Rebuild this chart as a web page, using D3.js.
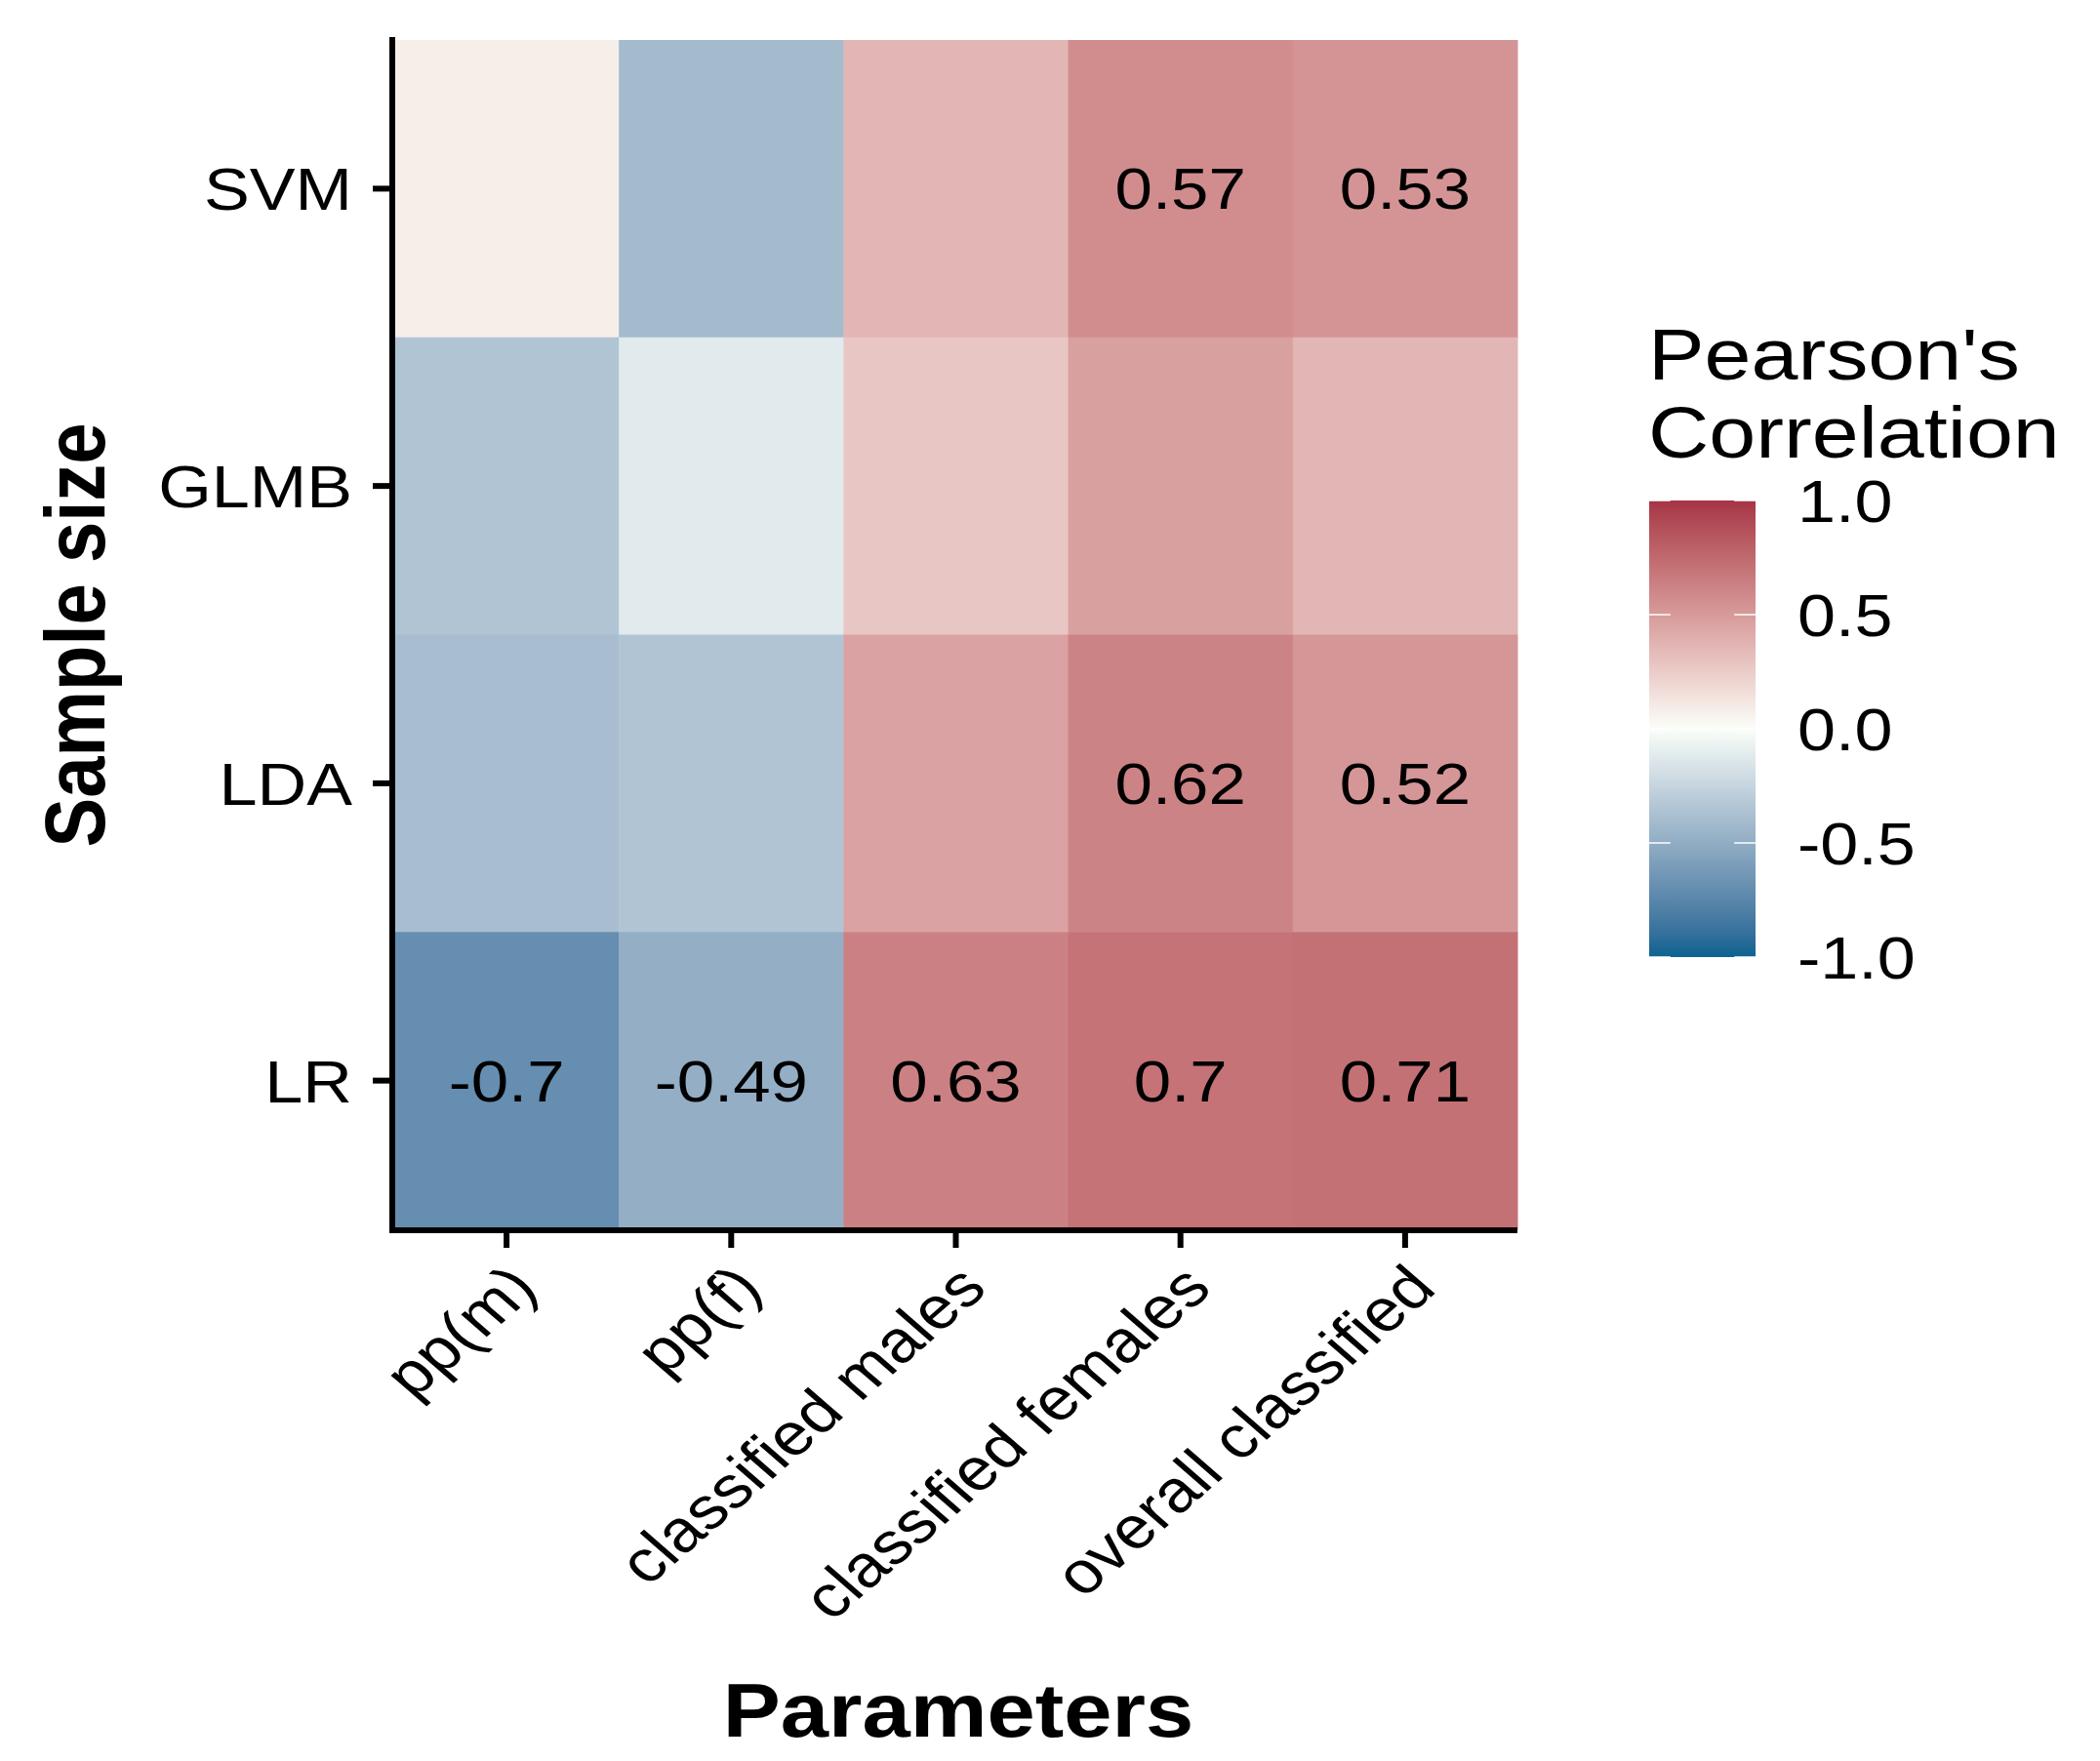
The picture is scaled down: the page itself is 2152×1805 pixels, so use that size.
<!DOCTYPE html>
<html>
<head>
  <meta charset="utf-8">
  <script src="https://d3js.org/d3.v7.min.js"></script>
  <style>
    body { margin: 0; background: #fff; }
    text { font-family: "Liberation Sans", Arial, sans-serif; fill: #000; }
  </style>
</head>
<body>
<script>
  // data
  var models = ["SVM", "GLMB", "LDA", "LR"];
  var params = ["pp(m)", "pp(f)", "classified males", "classified females", "overall classified"];
  // one row per model, one column per parameter
  var svmVals  = [0.08, -0.41, 0.36, 0.57, 0.53];
  var glmbVals = [-0.35, -0.12, 0.28, 0.47, 0.36];
  var ldaVals  = [-0.39, -0.35, 0.46, 0.62, 0.52];
  var lrVals   = [-0.7, -0.49, 0.63, 0.7, 0.71];
  // which cells carry a printed value
  var svmShown  = [false, false, false, true, true];
  var glmbShown = [false, false, false, false, false];
  var ldaShown  = [false, false, false, true, true];
  var lrShown   = [true, true, true, true, true];
  var legendTicks = [1.0, 0.5, 0.0, -0.5, -1.0];

  var rows = [svmVals, glmbVals, ldaVals, lrVals];
  var shown = [svmShown, glmbShown, ldaShown, lrShown];
  var cells = [];
  models.forEach(function (m, i) {
    params.forEach(function (p, j) {
      cells.push({model: m, param: p, value: rows[i][j], shown: shown[i][j]});
    });
  });

  var W = 2152, H = 1805;
  var SX = 1.15; // the original picture is stretched sideways

  var svg = d3.select("body").append("svg")
    .attr("width", W).attr("height", H);

  var x = d3.scaleBand().domain(params).range([404, 1555]);
  var y = d3.scaleBand().domain(models).range([41, 1260]);

  var color = d3.scaleLinear()
    .domain([-1, 0, 1])
    .range(["#0C6291", "#FBFEF9", "#A63446"])
    .interpolate(d3.interpolateLab);

  function place(sel, px, py, rot) {
    sel.attr("transform", "translate(" + px + "," + py + ") scale(" + SX + ",1)" + (rot ? " rotate(" + rot + ")" : ""));
  }
  function fmt(v) { return String(v).replace("\u2212", "-"); }

  // tiles
  svg.append("g").selectAll("rect")
    .data(cells).enter().append("rect")
    .attr("x", function (d) { return x(d.param); })
    .attr("y", function (d) { return y(d.model); })
    .attr("width", x.bandwidth() + 0.5)
    .attr("height", y.bandwidth() + 0.5)
    .attr("fill", function (d) { return color(d.value); });

  // printed values
  svg.append("g").selectAll("text")
    .data(cells.filter(function (d) { return d.shown; }))
    .enter().append("text")
    .attr("text-anchor", "middle")
    .style("font-size", "60px")
    .each(function (d) {
      place(d3.select(this), x(d.param) + x.bandwidth() / 2, y(d.model) + y.bandwidth() / 2 + 21);
    })
    .text(function (d) { return fmt(d.value); });

  // axes
  var yAxis = svg.append("g")
    .attr("transform", "translate(402,0)")
    .call(d3.axisLeft(y).tickSize(20).tickSizeOuter(0).tickFormat(""));
  var xAxis = svg.append("g")
    .attr("transform", "translate(0,1261)")
    .call(d3.axisBottom(x).tickSize(18).tickSizeOuter(0).tickFormat(""));
  [yAxis, xAxis].forEach(function (a) {
    a.selectAll("path, line").attr("stroke", "#000").attr("stroke-width", 6);
  });
  yAxis.select(".domain").attr("d", "M0,38V1264");
  xAxis.select(".domain").attr("d", "M399,0H1555");

  // tick labels
  svg.append("g").selectAll("text")
    .data(models).enter().append("text")
    .attr("text-anchor", "end")
    .style("font-size", "61px")
    .each(function (d) { place(d3.select(this), 361, y(d) + y.bandwidth() / 2 + 22); })
    .text(function (d) { return d; });

  svg.append("g").selectAll("text")
    .data(params).enter().append("text")
    .attr("text-anchor", "end")
    .style("font-size", "61px")
    .each(function (d) { place(d3.select(this), x(d) + x.bandwidth() / 2 + 34, 1323, -45); })
    .text(function (d) { return d; });

  // axis titles
  svg.append("text")
    .attr("text-anchor", "middle")
    .style("font-size", "77px").style("font-weight", "bold")
    .call(place, 982, 1780)
    .text("Parameters");

  svg.append("text")
    .attr("text-anchor", "middle")
    .style("font-size", "76px").style("font-weight", "bold")
    .attr("transform", "translate(107,651) scale(" + SX + ",1) rotate(-90)")
    .text("Sample size");

  // legend
  var ly = d3.scaleLinear().domain([-1, 1]).range([981, 513]);
  var lx = 1690, lw = 109;

  var grad = svg.append("defs").append("linearGradient")
    .attr("id", "corr-grad")
    .attr("x1", 0).attr("y1", 1).attr("x2", 0).attr("y2", 0);
  grad.selectAll("stop")
    .data(d3.range(-1, 1.0001, 0.1)).enter().append("stop")
    .attr("offset", function (d) { return (d + 1) / 2; })
    .attr("stop-color", function (d) { return color(d); });

  svg.append("rect")
    .attr("x", lx).attr("y", ly(1))
    .attr("width", lw).attr("height", ly(-1) - ly(1))
    .attr("fill", "url(#corr-grad)");

  var lt = svg.append("g").selectAll("g")
    .data(legendTicks).enter().append("g");
  lt.append("line")
    .attr("x1", lx).attr("x2", lx + lw / 5)
    .attr("y1", function (d) { return ly(d); }).attr("y2", function (d) { return ly(d); })
    .attr("stroke", "#fff").attr("stroke-width", 1.5);
  lt.append("line")
    .attr("x1", lx + lw - lw / 5).attr("x2", lx + lw)
    .attr("y1", function (d) { return ly(d); }).attr("y2", function (d) { return ly(d); })
    .attr("stroke", "#fff").attr("stroke-width", 1.5);
  lt.append("text")
    .style("font-size", "61px")
    .each(function (d) { place(d3.select(this), 1842, ly(d) + 22); })
    .text(function (d) { return fmt(d3.format(".1f")(d)); });

  svg.append("text")
    .style("font-size", "75px")
    .call(place, 1689, 389)
    .text("Pearson's");
  svg.append("text")
    .style("font-size", "75px")
    .call(place, 1689, 469)
    .text("Correlation");
</script>
</body>
</html>
